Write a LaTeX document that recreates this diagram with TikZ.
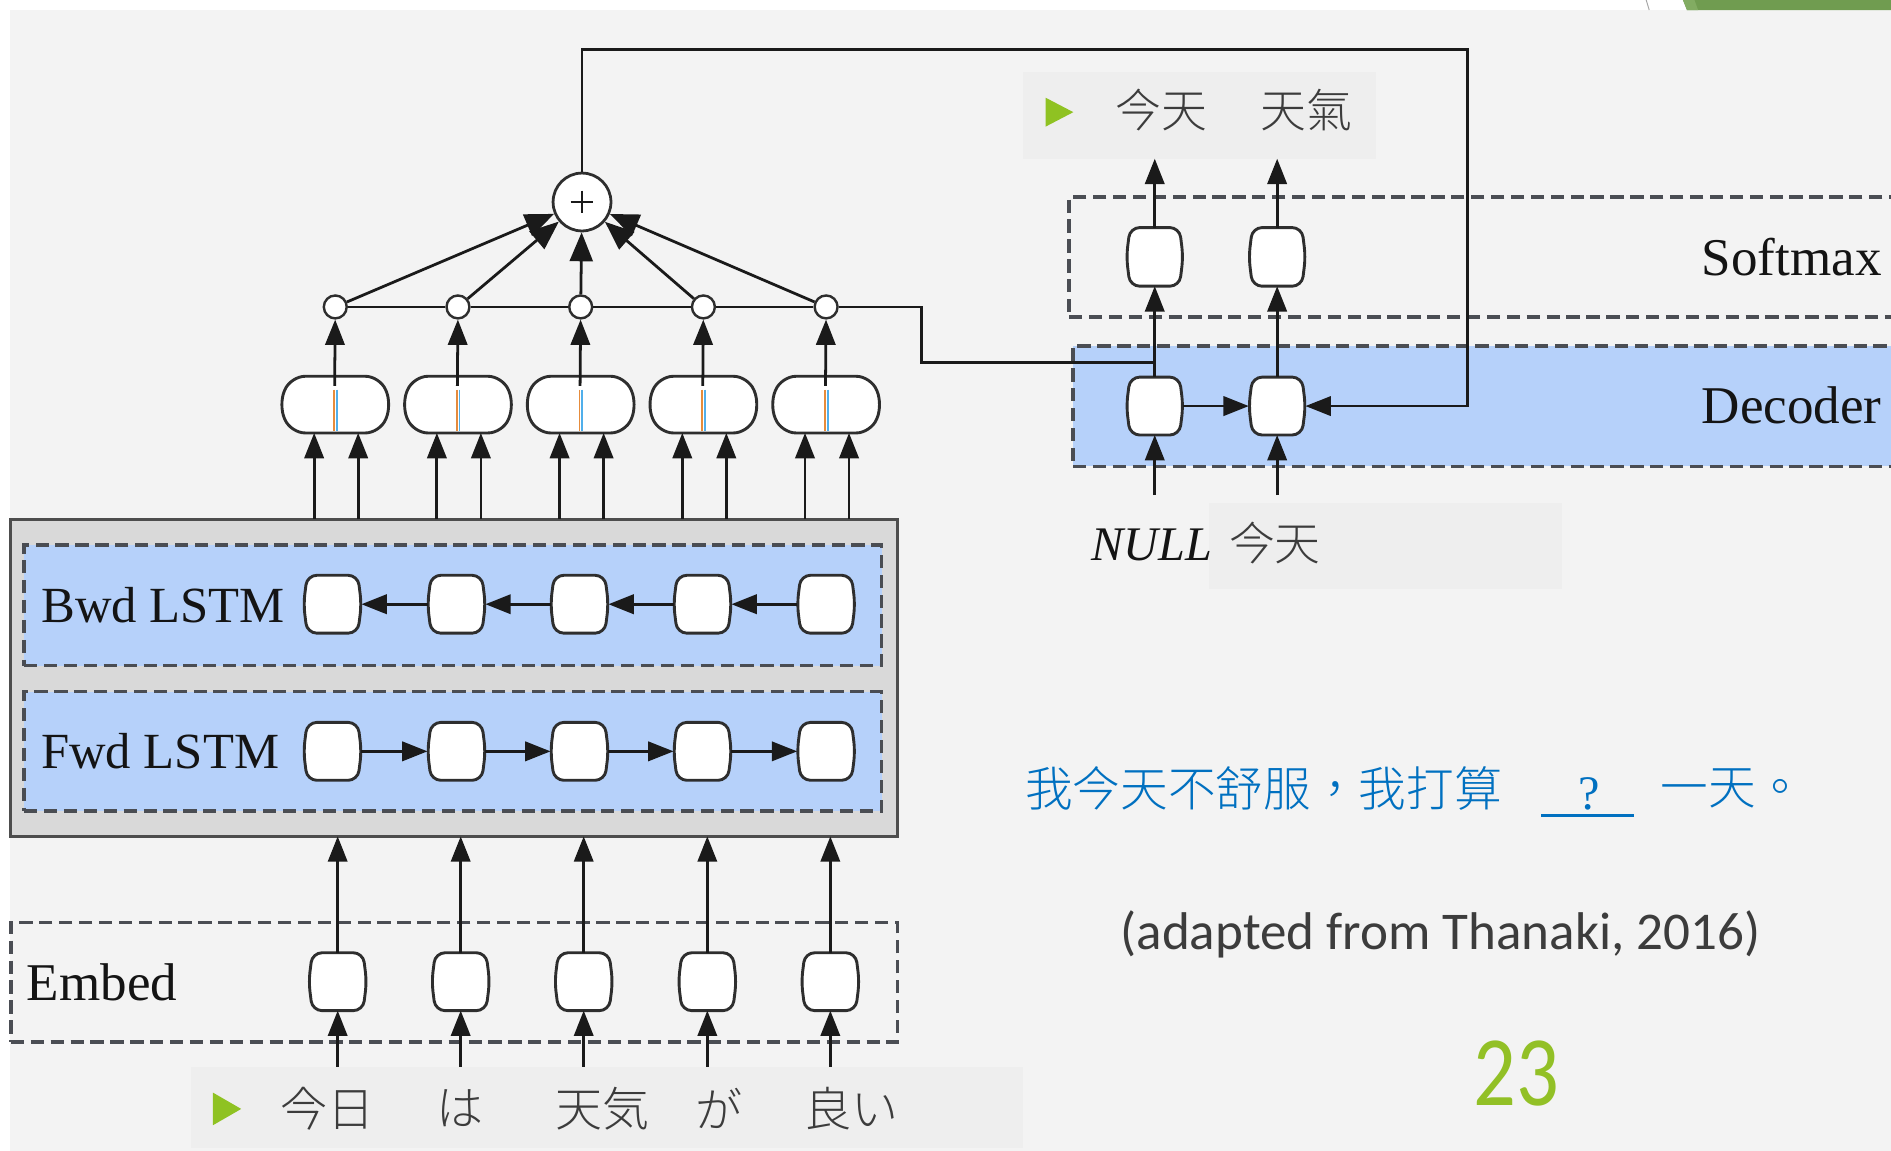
\documentclass[tikz,border=0pt]{standalone}
\usepackage{fontspec}
\setmainfont{Liberation Serif}
\IfFontExistsTF{Noto Sans CJK JP Light}{\newfontfamily\jpf{Noto Sans CJK JP Light}}{\newfontfamily\jpf{Noto Sans CJK JP}}
\IfFontExistsTF{Noto Sans CJK TC Light}{\newfontfamily\tcf{Noto Sans CJK TC Light}}{\newfontfamily\tcf{Noto Sans CJK TC}}
\newfontfamily\calf{Carlito}
\usetikzlibrary{arrows.meta,calc}
\definecolor{bgc}{HTML}{F3F3F3}
\definecolor{boxc}{HTML}{EEEEEE}
\definecolor{lstmfill}{HTML}{D9D9D9}
\definecolor{lstmedge}{HTML}{4D4D4D}
\definecolor{bluef}{RGB}{182,209,250}
\definecolor{dashc}{HTML}{4A4D53}
\definecolor{linec}{HTML}{1A1A1A}
\definecolor{cellc}{HTML}{2E2E2E}
\definecolor{bulg}{RGB}{143,194,34}
\definecolor{numg}{RGB}{146,192,38}
\definecolor{txtg}{HTML}{3C3C3C}
\definecolor{sentb}{RGB}{0,112,192}
\definecolor{topg}{RGB}{112,156,80}
\definecolor{topgb}{RGB}{130,172,98}
\definecolor{catorange}{RGB}{230,140,60}
\definecolor{catblue}{RGB}{80,175,235}
\tikzset{
  arr/.style={draw=linec, line width=2.3pt, -{Triangle[length=21pt,width=16pt]}},
  arrbig/.style={draw=linec, line width=2.3pt, -{Triangle[length=24pt,width=19pt]}},
  plainl/.style={draw=linec, line width=2.3pt},
  cellnode/.style={rectangle, inner sep=0pt, outer sep=0pt},
  cellline/.style={draw=cellc, line width=2.4pt, fill=white, rounded corners=8pt},
  catline/.style={draw=cellc, line width=2.4pt, fill=white, rounded corners=12pt},
  dbox/.style={rectangle, draw=dashc, line width=2.8pt, dash pattern=on 11pt off 5.5pt, inner sep=0pt, outer sep=0pt, anchor=north west},
  bluebox/.style={dbox, fill=bluef},
  graybox/.style={rectangle, fill=boxc, inner sep=0pt, outer sep=0pt, anchor=north west},
  lbl/.style={inner sep=0pt, anchor=base west, font=\fontsize{42}{42}\selectfont, text=black!92},
  lblb/.style={lbl, font=\fontsize{44}{44}\selectfont},
  jpw/.style={inner sep=0pt, anchor=west, font=\jpf\fontsize{39}{39}\selectfont, text=txtg},
  tcw/.style={inner sep=0pt, anchor=west, font=\tcf\fontsize{38}{38}\selectfont, text=txtg},
  smallc/.style={circle, draw=cellc, fill=white, line width=2pt, minimum size=19pt, inner sep=0pt},
}
\newcommand\mkcell[5]{%
  \node[cellnode, minimum width=#4pt, minimum height=#5pt] (#1) at (#2,#3) {};
  \draw[cellline] (#1.north) -- ($(#1.north east)+(-3,0)$) -- (#1.east) -- ($(#1.south east)+(-3,0)$) -- ($(#1.south west)+(3,0)$) -- (#1.west) -- ($(#1.north west)+(3,0)$) -- cycle;
}
\newcommand\mkcat[3]{%
  \node[cellnode, minimum width=94pt, minimum height=47pt] (#1) at (#2,#3) {};
  \draw[catline] (#1.north) -- ($(#1.north east)+(-10,0)$) -- (#1.east) -- ($(#1.south east)+(-10,0)$) -- ($(#1.south west)+(10,0)$) -- (#1.west) -- ($(#1.north west)+(10,0)$) -- cycle;
}
\begin{document}
\begin{tikzpicture}[x=1pt,y=-1pt]
\useasboundingbox (0,0) rectangle (1568,954);
\clip (0,0) rectangle (1568,954);
% slide background
\fill[white] (0,0) rectangle (1568,954);
\fill[bgc] (8.3,8.3) rectangle (1568,954);
\fill[topg] (1395.5,0) -- (1568,0) -- (1568,8.3) -- (1398.8,8.3) -- cycle;
\fill[topgb] (1395.5,0) -- (1405,0) -- (1408,8.3) -- (1398.8,8.3) -- cycle;
\draw[black!35, line width=0.8pt] (1365,0) -- (1367.5,8.3);

% layer boxes
\node[dbox, minimum width=735pt, minimum height=99pt] (embed) at (9,765) {};
\node[rectangle, draw=lstmedge, fill=lstmfill, line width=2.6pt, inner sep=0pt, outer sep=0pt, anchor=north west, minimum width=735pt, minimum height=263pt] (lstm) at (9,430.5) {};
\node[bluebox, minimum width=711pt, minimum height=100pt] (bwd) at (20,452) {};
\node[bluebox, minimum width=711pt, minimum height=99pt] (fwd) at (20,573.6) {};
\node[dbox, minimum width=700pt, minimum height=99.4pt] (smx) at (886.4,163.4) {};
\node[bluebox, minimum width=700pt, minimum height=99.6pt] (dec) at (889.8,287) {};

% gray text boxes
\node[graybox, minimum width=689.5pt, minimum height=67.4pt] (inbox) at (158.5,884.6) {};
\node[graybox, minimum width=293pt, minimum height=72pt] (outbox) at (848,59.6) {};
\node[graybox, minimum width=292.3pt, minimum height=71.6pt] (nbox) at (1002.7,417) {};

% layer labels
\node[lbl] (lbwd) at (34,516) {Bwd LSTM};
\node[lbl] (lfwd) at (34,637.5) {Fwd LSTM};
\node[lblb] (lemb) at (22,830) {Embed};
\node[lblb] (lsmx) at (1411,228.5) {Softmax};
\node[lblb] (ldec) at (1411,351) {Decoder};

% cells
\foreach \i/\x in {1/280,2/382,3/484,4/586.5,5/688.5} {\mkcell{e\i}{\x}{814}{48}{48}}
\foreach \i/\x in {1/275.7,2/378.5,3/480.5,4/582.5,5/685} {\mkcell{b\i}{\x}{501}{48}{48}\mkcell{f\i}{\x}{623}{48}{48}}
\foreach \i/\x in {1/278,2/379.75,3/481.5,4/583.25,5/685} {\mkcat{k\i}{\x}{335.5}}
\foreach \i/\x in {1/278,2/379.75,3/481.5,4/583.25,5/685} {\node[smallc] (s\i) at (\x,254.5) {};}
\node[circle, draw=cellc, fill=white, line width=2.3pt, minimum size=48pt, inner sep=0pt] (p) at (482.6,167.5) {};
\draw[linec, line width=1.5pt] ($(p.center)+(-9.5,0)$) -- ($(p.center)+(9.5,0)$);
\draw[linec, line width=1.5pt] ($(p.center)+(0,-9.5)$) -- ($(p.center)+(0,9.5)$);
\mkcell{d1}{957.5}{336.7}{47}{48}
\mkcell{d2}{1059}{336.7}{47}{48}
\mkcell{o1}{957.5}{213}{47}{48.6}
\mkcell{o2}{1059}{213}{47}{48.6}

% encoder connectors
\foreach \i in {1,...,5} {
  \draw[arr] (e\i.south |- inbox.north) -- (e\i.south);
  \draw[arr] (e\i.north) -- (e\i.north |- lstm.south);
}
\foreach \i/\j in {1/2,2/3,3/4,4/5} {
  \draw[arr] (b\j.west) -- (b\i.east);
  \draw[arr] (f\i.east) -- (f\j.west);
}
\foreach \i in {1,...,5} {
  \coordinate (ka\i) at ($(k\i.south)+(-17.5,0)$);
  \coordinate (kb\i) at ($(k\i.south)+(19,0)$);
  \draw[arr] (ka\i |- lstm.north) -- (ka\i);
  \draw[arr] (kb\i |- lstm.north) -- (kb\i);
  \draw[catorange, line width=1.4pt] ($(k\i.north)+(-1,11)$) -- ($(k\i.south)+(-1,-1.4)$);
  \draw[catblue, line width=1.4pt] ($(k\i.north)+(1.3,11)$) -- ($(k\i.south)+(1.3,-1.4)$);
  \coordinate (kt\i) at ($(k\i.north)+(-0.5,8)$);
  \draw[arr] (kt\i) -- (s\i);
}
% attention
\draw[plainl] (s1) -- (s2);
\draw[plainl] (s2) -- (s3);
\draw[plainl] (s3) -- (s4);
\draw[plainl] (s4) -- (s5);
\coordinate (att1) at (764,254.5);
\coordinate (att2) at (764,300.5);
\coordinate (att3) at (957.5,300.5);
\draw[plainl] (s5.east) -- (att1) -- (att2) -- (att3);
\foreach \i in {1,...,5} {\draw[arrbig] (s\i) -- (p);}
% feedback loop
\coordinate (fb1) at (482.6,41.2);
\coordinate (fb2) at (1216.6,41.2);
\coordinate (fb3) at (1216.6,336.7);
\draw[arr] (p.north) -- (fb1) -- (fb2) -- (fb3) -- (d2.east);
% decoder connectors
\draw[arr] (d1.east) -- (d2.west);
\draw[arr] (d1.north) -- (o1.south);
\draw[arr] (d2.north) -- (o2.south);
\draw[arr] (o1.north) -- (o1.north |- outbox.south);
\draw[arr] (o2.north) -- (o2.north |- outbox.south);
\coordinate (in1) at (957.5,410.6);
\coordinate (in2) at (1059,410.6);
\draw[arr] (in1) -- (d1.south);
\draw[arr] (in2) -- (d2.south);

% words
\fill[bulg] (176.6,906) -- (200,919.5) -- (176.6,933) -- cycle;
\node[jpw] (w1) at (232.5,919) {今日};
\node[jpw] (w2) at (361.5,919) {は};
\node[jpw] (w3) at (460.5,919) {天気};
\node[jpw] (w4) at (576.5,919) {が};
\node[jpw] (w5) at (666.5,919) {良い};
\fill[bulg] (867,81) -- (890,93) -- (867,105) -- cycle;
\node[tcw] (t1) at (924.5,91) {今天};
\node[tcw] (t2) at (1045,91) {天氣};
\node[lbl, font=\itshape\fontsize{40}{40}\selectfont] (null) at (904.7,465) {NULL};
\node[tcw] (t3) at (1019,450) {今天};

% sentence and credits
\node[tcw, text=sentb, font=\tcf\fontsize{39.5}{39.5}\selectfont] (sent1) at (850,654) {我今天不舒服，我打算};
\node[inner sep=0pt, anchor=base, text=sentb, font=\fontsize{40}{40}\selectfont] (qm) at (1317.5,671) {?};
\draw[sentb, line width=2.5pt] (1278,676) -- (1355,676);
\node[tcw, text=sentb, font=\tcf\fontsize{39.5}{39.5}\selectfont] (sent2) at (1377,654) {一天。};
\node[inner sep=0pt, anchor=base west, font=\calf\fontsize{44}{44}\selectfont, text=txtg] (src) at (929,787) {(adapted from Thanaki, 2016)};
\node[inner sep=0pt, anchor=base west, font=\calf\fontsize{70}{70}\selectfont, text=numg] (pg) at (1222,917) {\scalebox{1}[1.18]{23}};
\end{tikzpicture}
\end{document}
